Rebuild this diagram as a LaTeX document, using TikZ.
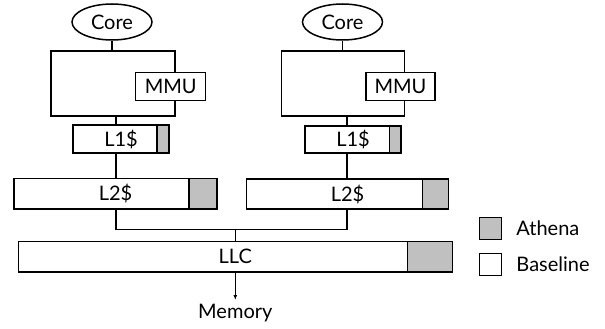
\documentclass[tikz,border=0pt]{standalone}
\usepackage{fontspec}
\setmainfont{Lato}
\usetikzlibrary{arrows.meta,positioning,shapes.geometric}
\definecolor{CacheGray}{HTML}{C0C0C0}

\begin{document}
\begin{tikzpicture}[x=1pt,y=-1pt,line width=1.5pt,font=\fontsize{20}{22}\selectfont]
  \tikzset{core/.style={ellipse,draw,fill=white,minimum width=80pt,minimum height=36pt,inner sep=0pt},
    blk/.style={draw,fill=white,inner sep=0pt},
    ath/.style={draw,fill=CacheGray,inner sep=0pt},
    key/.style={draw,minimum width=22pt,minimum height=22pt,inner sep=0pt}}
  \useasboundingbox (0,0) rectangle (605,329);

  % left core
  \coordinate (col1) at (116,0);
  \node[core] (core1) at (112,22) {Core};
  \node[blk,minimum width=124pt,minimum height=65pt] (cpu1) at (113,83.5) {};
  \node[blk,minimum width=70pt,minimum height=28pt] (mmu1) at (170.7,86.5) {MMU};
  \node[blk,minimum width=96pt,minimum height=28pt] (l1a) at (121,139) {L1\$};
  \node[ath,minimum width=12pt,minimum height=28pt,anchor=east] (l1ax) at (l1a.east) {};
  \node[blk,minimum width=203pt,minimum height=30.5pt] (l2a) at (115.5,193.7) {L2\$};
  \node[ath,minimum width=28pt,minimum height=30.5pt,anchor=east] (l2ax) at (l2a.east) {};

  % right core
  \coordinate (col2) at (347,0);
  \node[core] (core2) at (342.5,22) {Core};
  \node[blk,minimum width=123pt,minimum height=65pt] (cpu2) at (343,83.5) {};
  \node[blk,minimum width=69pt,minimum height=28pt] (mmu2) at (400.5,86.5) {MMU};
  \node[blk,minimum width=96pt,minimum height=27pt] (l1b) at (353,139.5) {L1\$};
  \node[ath,minimum width=11.5pt,minimum height=27pt,anchor=east] (l1bx) at (l1b.east) {};
  \node[blk,minimum width=201.6pt,minimum height=30.3pt] (l2b) at (347.5,194) {L2\$};
  \node[ath,minimum width=25.6pt,minimum height=30.3pt,anchor=east] (l2bx) at (l2b.east) {};

  % shared level
  \node[blk,minimum width=434pt,minimum height=30.3pt] (llc) at (235.3,256.8) {LLC};
  \node[ath,minimum width=44.6pt,minimum height=30.3pt,anchor=east] (llcx) at (llc.east) {};
  \coordinate (join) at (235.3,229.3);
  \node[inner sep=3pt,anchor=north] (mem) at (235.3,300) {Memory};

  % wires
  \draw (core1) -- (core1 |- cpu1.north);
  \draw (core2) -- (core2 |- cpu2.north);
  \draw (cpu1.south -| col1) -- (l1a.north -| col1);
  \draw (cpu2.south -| col2) -- (l1b.north -| col2);
  \draw (l1a.south -| col1) -- (l2a.north -| col1);
  \draw (l1b.south -| col2) -- (l2b.north -| col2);
  \draw (l2a.south -| col1) |- (join) -| (l2b.south -| col2);
  \draw (join) -- (llc.north);
  \draw[line width=1pt,-{Latex[length=5pt,width=4pt]}] (llc.south) -- (mem.north);

  % legend
  \node[key,fill=CacheGray] (kath) at (490.3,228.7) {};
  \node[key,fill=white] (kbase) at (490.3,264.7) {};
  \node[anchor=west,inner sep=0pt] (tath) at (515.7,228.7) {Athena};
  \node[anchor=west,inner sep=0pt] (tbase) at (515.7,264.7) {Baseline};
\end{tikzpicture}
\end{document}
